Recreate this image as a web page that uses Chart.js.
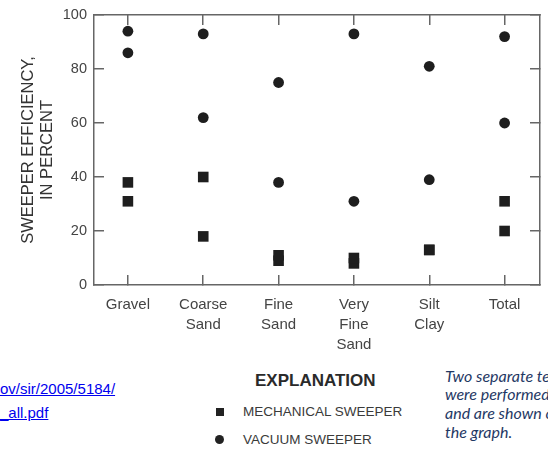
<!DOCTYPE html>
<html>
<head>
<meta charset="utf-8">
<script src="https://cdn.jsdelivr.net/npm/chart.js@4"></script>
<style>
  html, body { margin:0; padding:0; background:#fff; width:548px; height:449px; overflow:hidden; position:relative; }
  #wrap { position:absolute; left:0; top:0; width:548px; height:360px; }
  .txt { position:absolute; white-space:nowrap; font-family:'Liberation Sans', Arial, sans-serif; }
  .link { color:#0000ee; text-decoration:underline; font-size:15px; line-height:23px; left:0; }
  .expl { color:#2a2a2a; font-weight:bold; font-size:17px; }
  .leg { color:#3a3a3a; font-size:13.5px; }
  .note { font-family:Lato, 'Open Sans', sans-serif; font-style:italic; color:#1f3864; font-size:16px; left:445px; }
  .sq { position:absolute; width:8px; height:8px; background:#222; }
  .ci { position:absolute; width:9px; height:9px; border-radius:50%; background:#222; }
</style>
</head>
<body>
<div id="wrap"><canvas id="c"></canvas></div>

<div class="txt link" style="top:377px;">ov/sir/2005/5184/</div>
<div class="txt link" style="top:401px;">_all.pdf</div>

<div class="txt expl" style="left:255px; top:371px;">EXPLANATION</div>
<div class="sq" style="left:216px; top:408px;"></div>
<div class="txt leg" style="left:243px; top:404px;">MECHANICAL SWEEPER</div>
<div class="ci" style="left:215px; top:435px;"></div>
<div class="txt leg" style="left:243px; top:432px;">VACUUM SWEEPER</div>

<div class="txt note" style="top:366px;">Two separate tests</div>
<div class="txt note" style="top:384px;">were performed</div>
<div class="txt note" style="top:403px;">and are shown on</div>
<div class="txt note" style="top:422px;">the graph.</div>

<script>
const categories = [['Gravel'], ['Coarse', 'Sand'], ['Fine', 'Sand'], ['Very', 'Fine', 'Sand'], ['Silt', 'Clay'], ['Total']];
const mechanicalTest1 = [38, 40, 11, 10, 13, 31];
const mechanicalTest2 = [31, 18, 9, 8, 13, 20];
const vacuumTest1 = [94, 93, 75, 93, 81, 92];
const vacuumTest2 = [86, 62, 38, 31, 39, 60];
const yTicks = [0, 20, 40, 60, 80, 100];

const AX = '#666';
const FONT = "'Liberation Sans', Arial, sans-serif";

function pts(arr) { return arr.map((v, i) => ({ x: i, y: v })); }

const mark = '#1e1e1e';
const datasets = [
  { label: 'MECHANICAL SWEEPER', data: pts(mechanicalTest1), pointStyle: 'rect', pointRadius: 7.5, backgroundColor: mark, borderColor: mark, borderWidth: 0 },
  { label: 'MECHANICAL SWEEPER', data: pts(mechanicalTest2), pointStyle: 'rect', pointRadius: 7.5, backgroundColor: mark, borderColor: mark, borderWidth: 0 },
  { label: 'VACUUM SWEEPER', data: pts(vacuumTest1), pointStyle: 'circle', pointRadius: 5.4, backgroundColor: mark, borderColor: mark, borderWidth: 0 },
  { label: 'VACUUM SWEEPER', data: pts(vacuumTest2), pointStyle: 'circle', pointRadius: 5.4, backgroundColor: mark, borderColor: mark, borderWidth: 0 }
];

function catTicks(scale) { scale.ticks = categories.map((c, i) => ({ value: i })); }
function yT(scale) { scale.ticks = yTicks.map(v => ({ value: v })); }

const gridOpt = { drawOnChartArea: false, drawTicks: true, tickLength: -10, color: AX, lineWidth: 1.5 };
const borderOpt = { display: true, color: AX, width: 1.5 };

new Chart(document.getElementById('c'), {
  type: 'scatter',
  data: { datasets },
  options: {
    responsive: true,
    maintainAspectRatio: false,
    animation: false,
    layout: { padding: 0 },
    plugins: { legend: { display: false }, tooltip: { enabled: false } },
    scales: {
      x: {
        type: 'linear', position: 'bottom', min: -0.45, max: 5.47,
        afterBuildTicks: catTicks,
        afterFit: s => { s.height = 75; },
        grid: gridOpt, border: borderOpt,
        ticks: { callback: v => categories[v], padding: 20, color: '#444', maxRotation: 0, autoSkip: false,
                 font: { family: FONT, size: 15, lineHeight: '20px' } }
      },
      x2: {
        type: 'linear', position: 'top', min: -0.45, max: 5.47,
        afterBuildTicks: catTicks,
        afterFit: s => { s.height = 15; },
        grid: gridOpt, border: borderOpt,
        ticks: { display: false }
      },
      y: {
        type: 'linear', position: 'left', min: 0, max: 100,
        afterBuildTicks: yT,
        afterFit: s => { s.width = 94; s.paddingTop = 8; s.paddingBottom = 8; },
        grid: gridOpt, border: borderOpt,
        ticks: { padding: 17, color: '#444', font: { family: FONT, size: 14.5 } },
        title: { display: true, text: ['SWEEPER EFFICIENCY,', 'IN PERCENT'], color: '#333',
                 font: { family: FONT, size: 16.5, lineHeight: '19px' }, padding: { top: 18.5, bottom: 0 } }
      },
      y2: {
        type: 'linear', position: 'right', min: 0, max: 100,
        afterBuildTicks: yT,
        afterFit: s => { s.width = 8; },
        grid: gridOpt, border: borderOpt,
        ticks: { display: false }
      }
    }
  }
});
</script>
</body>
</html>
